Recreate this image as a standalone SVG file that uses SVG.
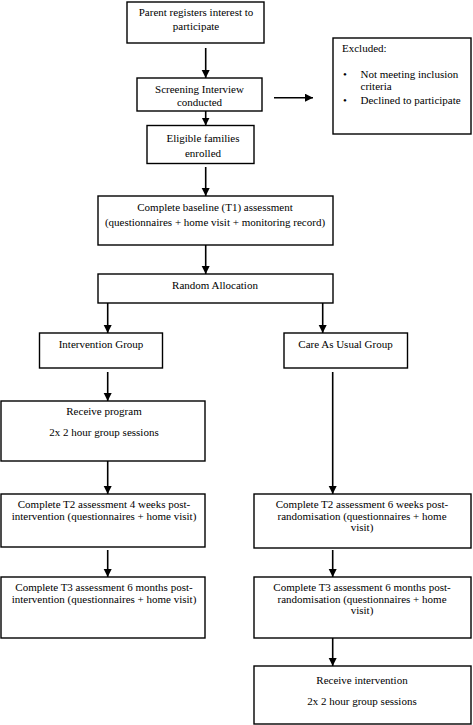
<svg xmlns="http://www.w3.org/2000/svg" width="473" height="725" viewBox="0 0 473 725">
<style>
.box{fill:#fff;stroke:#000;stroke-width:1.4}
.t{font-family:"Liberation Serif","Times New Roman",serif;font-size:11px;fill:#000;text-anchor:middle}
.tl{font-family:"Liberation Serif","Times New Roman",serif;font-size:11px;fill:#000}
.c{stroke:#000;stroke-width:1.6;fill:none;marker-end:url(#ah)}
</style>
<defs>
<marker id="ah" markerUnits="userSpaceOnUse" markerWidth="8" markerHeight="9" refX="8" refY="4" orient="auto">
<path d="M0,0 L8,4 L0,8 Z" fill="#000"/>
</marker>
</defs>
<rect width="473" height="725" fill="#fff"/>
<g id="connectors">
<line class="c" x1="205.7" y1="48" x2="205.7" y2="78"/>
<line class="c" x1="205.7" y1="111" x2="205.7" y2="125.5"/>
<line class="c" x1="274" y1="97.7" x2="313" y2="97.7"/>
<line class="c" x1="205.7" y1="167" x2="205.7" y2="196"/>
<line class="c" x1="205.7" y1="245" x2="205.7" y2="274"/>
<line class="c" x1="107.7" y1="303" x2="107.7" y2="333"/>
<line class="c" x1="322.7" y1="303" x2="322.7" y2="333"/>
<line class="c" x1="107.7" y1="372" x2="107.7" y2="401"/>
<line class="c" x1="332.7" y1="372" x2="332.7" y2="494"/>
<line class="c" x1="107.7" y1="461" x2="107.7" y2="494"/>
<line class="c" x1="107.7" y1="550" x2="107.7" y2="577"/>
<line class="c" x1="332.7" y1="550" x2="332.7" y2="577"/>
<line class="c" x1="332.7" y1="638" x2="332.7" y2="666"/>
</g>
<g id="n1"><rect class="box" x="127" y="2" width="137" height="41"/>
<text class="t" x="196" y="15.5">Parent registers interest to</text>
<text class="t" x="196" y="29.5">participate</text></g>
<g id="n2"><rect class="box" x="137" y="78" width="125" height="33"/>
<text class="t" x="199.5" y="92.5">Screening Interview</text>
<text class="t" x="199.5" y="105.5">conducted</text></g>
<g id="n_excluded"><rect class="box" x="333" y="38" width="138" height="96"/>
<text class="tl" x="342" y="52">Excluded:</text>
<text class="tl" x="343" y="77.5">•</text>
<text class="tl" x="360.5" y="77.5">Not meeting inclusion</text>
<text class="tl" x="360.5" y="90">criteria</text>
<text class="tl" x="343" y="104">•</text>
<text class="tl" x="360.5" y="104">Declined to participate</text></g>
<g id="n3"><rect class="box" x="147" y="125.5" width="107" height="38"/>
<text class="t" x="203" y="142">Eligible families</text>
<text class="t" x="203" y="157">enrolled</text></g>
<g id="n4"><rect class="box" x="98" y="196" width="235" height="49"/>
<text class="t" x="215" y="210.5">Complete baseline (T1) assessment</text>
<text class="t" x="215" y="225.5">(questionnaires + home visit + monitoring record)</text></g>
<g id="n5"><rect class="box" x="98" y="274" width="235" height="29"/>
<text class="t" x="215" y="288.5">Random Allocation</text></g>
<g id="n6"><rect class="box" x="39.5" y="333" width="123" height="35"/>
<text class="t" x="101" y="347.5">Intervention Group</text></g>
<g id="n7"><rect class="box" x="284" y="333" width="123.5" height="35"/>
<text class="t" x="345.5" y="347.5">Care As Usual Group</text></g>
<g id="n8"><rect class="box" x="1" y="401" width="204" height="60"/>
<text class="t" x="104" y="415">Receive program</text>
<text class="t" x="104" y="436">2x 2 hour group sessions</text></g>
<g id="n9"><rect class="box" x="1" y="494" width="204" height="53"/>
<text class="t" x="104" y="507.5">Complete T2 assessment 4 weeks post-</text>
<text class="t" x="104" y="519.5">intervention (questionnaires + home visit)</text></g>
<g id="n10"><rect class="box" x="254" y="494" width="217" height="54"/>
<text class="t" x="362" y="507.5">Complete T2 assessment 6 weeks post-</text>
<text class="t" x="362" y="519.5">randomisation (questionnaires + home</text>
<text class="t" x="362" y="531">visit)</text></g>
<g id="n11"><rect class="box" x="1" y="577" width="204" height="61"/>
<text class="t" x="104" y="590.5">Complete T3 assessment 6 months post-</text>
<text class="t" x="104" y="602.5">intervention (questionnaires + home visit)</text></g>
<g id="n12"><rect class="box" x="254" y="577" width="217" height="61"/>
<text class="t" x="362" y="590.5">Complete T3 assessment 6 months post-</text>
<text class="t" x="362" y="602.5">randomisation (questionnaires + home</text>
<text class="t" x="362" y="614">visit)</text></g>
<g id="n13"><rect class="box" x="254" y="666" width="217" height="58"/>
<text class="t" x="362" y="684">Receive intervention</text>
<text class="t" x="362" y="705">2x 2 hour group sessions</text></g>
</svg>
